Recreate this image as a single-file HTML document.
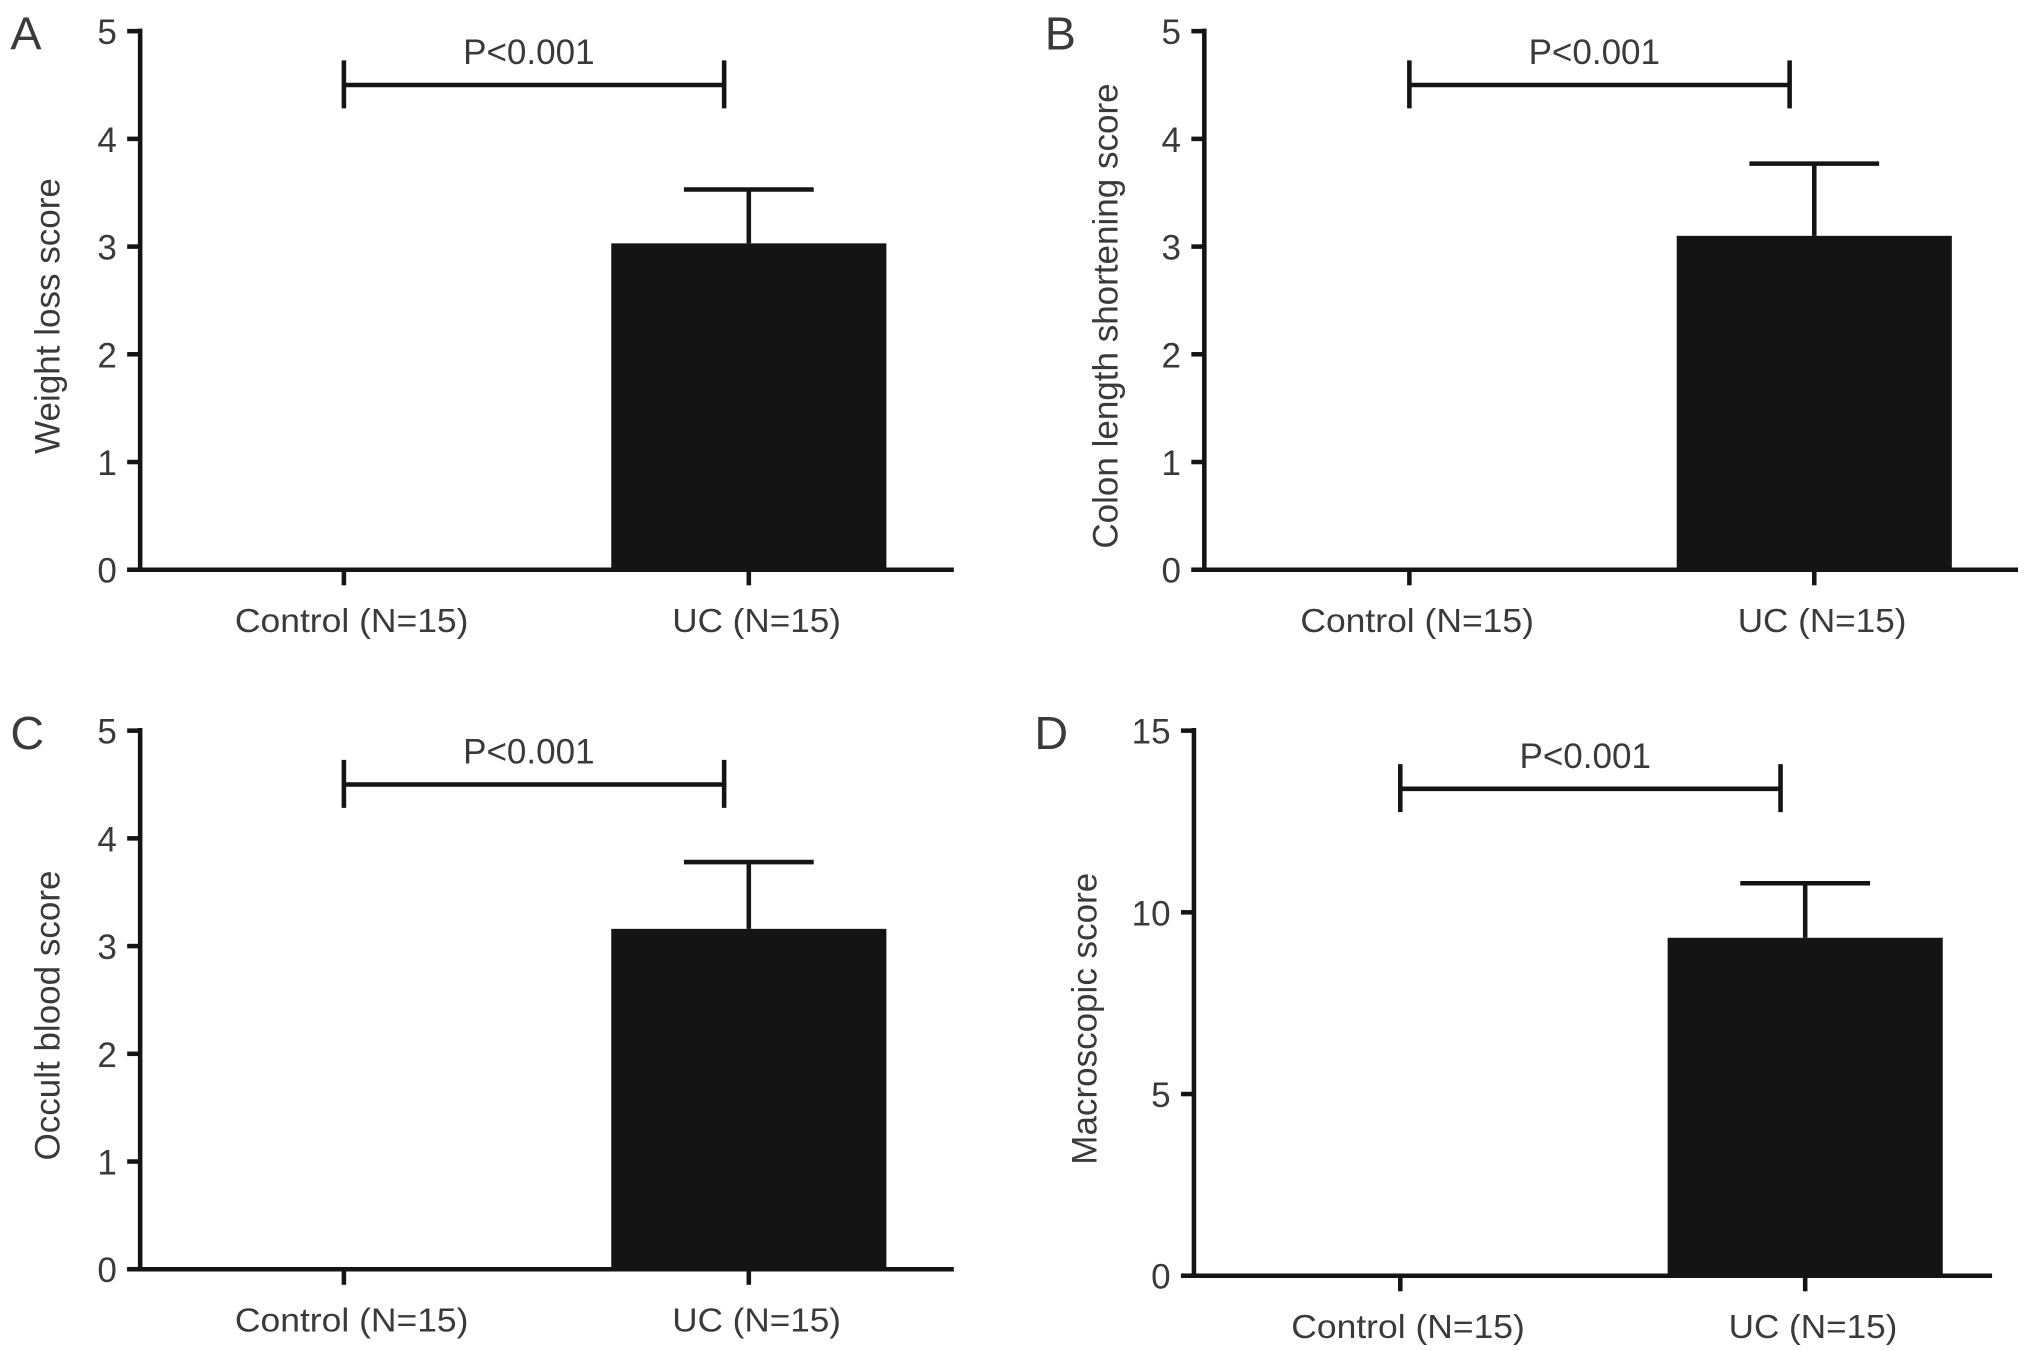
<!DOCTYPE html>
<html><head><meta charset="utf-8">
<style>
html,body{margin:0;padding:0;background:#fff;}
svg{display:block;}
text{font-family:"Liberation Sans",sans-serif;fill:#3a3a3a;}
</style></head>
<body>
<svg id="fig" width="2031" height="1351" viewBox="0 0 1565 1041" xmlns="http://www.w3.org/2000/svg"></svg>
<script>
// Chart data
const categories = ["Control (N=15)", "UC (N=15)"];
const panelLetters = ["A", "B", "C", "D"];
const yTitles = ["Weight loss score", "Colon length shortening score", "Occult blood score", "Macroscopic score"];
const meansA = [0, 3.03];
const errA = [0, 0.5];
const meansB = [0, 3.1];
const errB = [0, 0.67];
const meansC = [0, 3.16];
const errC = [0, 0.62];
const meansD = [0, 9.3];
const errD = [0, 1.5];
const ticks5 = [0, 1, 2, 3, 4, 5];
const ticks15 = [0, 5, 10, 15];
const sigLabel = "P<0.001";
const sigLevels = [4.5, 4.5, 4.5, 13.4];

const NS = "http://www.w3.org/2000/svg";
const svg = document.getElementById('fig');
function mk(tag, attrs, parent) {
  const e = document.createElementNS(NS, tag);
  for (const k in attrs) e.setAttribute(k, attrs[k]);
  (parent || svg).appendChild(e);
  return e;
}

const panels = [
  {axisX:108, top:24, bottom:439, xEnd:735, ymax:5, ticks:ticks5, means:meansA, errs:errA, c0:265, c1:577, titleX:37},
  {axisX:928, top:24, bottom:439, xEnd:1555, ymax:5, ticks:ticks5, means:meansB, errs:errB, c0:1086, c1:1398, titleX:852},
  {axisX:108, top:563, bottom:978, xEnd:735, ymax:5, ticks:ticks5, means:meansC, errs:errC, c0:265, c1:577, titleX:37},
  {axisX:920, top:563, bottom:983, xEnd:1535, ymax:15, ticks:ticks15, means:meansD, errs:errD, c0:1079, c1:1391, titleX:836}
];

panels.forEach((p, i) => {
  const g = mk('g', {});
  
  
  const y = v => p.bottom - (v / p.ymax) * (p.bottom - p.top);
  const cx = [p.c0, p.c1];
  const halfW = 106;

  p.means.forEach((m, j) => {
    if (m > 0) {
      const r = mk('rect', {x: cx[j] - halfW, y: y(m), width: 2 * halfW, height: p.bottom - y(m), fill: '#141414'}, g);
      
      
      const e = mk('path', {d: `M${cx[j]},${y(m)} V${y(m + p.errs[j])} M${cx[j] - 50},${y(m + p.errs[j])} H${cx[j] + 50}`, stroke: '#141414', 'stroke-width': 3.5, fill: 'none'}, g);
      
      
    }
  });

  const ax = mk('path', {d: `M${p.axisX},${p.top - 2} V${p.bottom} M${p.axisX - 10},${p.bottom} H${p.xEnd}`, stroke: '#141414', 'stroke-width': 3.5, fill: 'none'}, g);
  
  

  p.ticks.forEach(t => {
    const tk = mk('line', {x1: p.axisX - 10, x2: p.axisX, y1: y(t), y2: y(t), stroke: '#141414', 'stroke-width': 3.5}, g);
    
    
    const tl = mk('text', {x: p.axisX - 18, y: y(t) + 10, 'text-anchor': 'end', 'font-size': 27}, g);
    tl.textContent = t;
    
    
  });

  categories.forEach((c, j) => {
    const tk = mk('line', {x1: cx[j], x2: cx[j], y1: p.bottom, y2: p.bottom + 12, stroke: '#141414', 'stroke-width': 3.5}, g);
    
    
    const tl = mk('text', {x: cx[j] + 6, y: p.bottom + 48, 'text-anchor': 'middle', 'font-size': 26, textLength: j === 0 ? 180 : 130, lengthAdjust: 'spacingAndGlyphs'}, g);
    tl.textContent = c;
    
    
  });

  const midY = (p.top + p.bottom) / 2 + 12;
  const yt = mk('text', {x: p.titleX + 9, y: midY, 'text-anchor': 'middle', 'font-size': 27, transform: `rotate(-90 ${p.titleX + 9} ${midY})`}, g);
  yt.textContent = yTitles[i];
  
  

  const pl = mk('text', {x: (p.axisX > 500 ? p.axisX - 123 : 8), y: p.top + 14, 'font-size': 36}, g);
  pl.textContent = panelLetters[i];
  
  

  const sy = y(sigLevels[i]);
  const sx1 = cx[0], sx2 = cx[0] + 293;
  const sb = mk('path', {d: `M${sx1},${sy - 19} V${sy + 18} M${sx1},${sy} H${sx2} M${sx2},${sy - 19} V${sy + 18}`, stroke: '#141414', 'stroke-width': 3.5, fill: 'none'}, g);
  
  
  const st = mk('text', {x: (sx1 + sx2) / 2 - 4, y: sy - 16, 'text-anchor': 'middle', 'font-size': 27}, g);
  st.textContent = sigLabel;
  
  
});
</script>
</body></html>
